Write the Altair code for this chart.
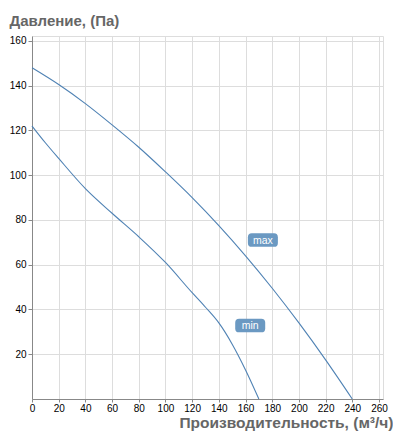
import altair as alt
import pandas as pd

# max curve
max_x = [0, 20, 40, 60, 80, 100, 120, 140, 160, 180, 200, 220, 240]
max_y = [148, 140.5, 132, 122.5, 112.5, 101.5, 90, 77.5, 64, 49.5, 34, 17.5, 0]
# min curve
min_x = [0, 10, 20, 40, 60, 80, 100, 120, 130, 140, 150, 160, 170]
min_y = [122, 114.5, 107.5, 94, 83, 72.5, 61, 47.5, 41, 34, 24.5, 13, 0]

# curve labels
label_text = ["max", "min"]
label_x = [173, 163.5]
label_y = [71, 32.8]

x_ticks = list(range(0, 261, 20))
y_ticks = list(range(20, 161, 20))

curves = pd.DataFrame(
    {"q": max_x + min_x,
     "p": max_y + min_y,
     "curve": ["max"] * len(max_x) + ["min"] * len(min_x)}
)
labels = pd.DataFrame({"q": label_x, "p": label_y, "t": label_text})

LINE = "#4f82b4"
BOX = "#6b99c2"

x_scale = alt.Scale(domain=[0, 263], nice=False, zero=False)
y_scale = alt.Scale(domain=[0, 162.2], nice=False, zero=False)

x_axis = alt.Axis(
    values=x_ticks, grid=True, tickSize=3, labelPadding=1, labelFlush=False,
    labelOverlap=False, labelSeparation=0,
    title="Производительность, (м³/ч)", titleAlign="right",
    titleAnchor="end", titleX=361, titleY=28.5, titleBaseline="alphabetic",
    titleFont="Liberation Sans", titleFontSize=15.5, titleFontWeight="bold",
    titleColor="#666666",
)
y_axis = alt.Axis(
    values=y_ticks, grid=True, tickSize=4, labelPadding=2, labelOverlap=False,
    title="Давление, (Па)", titleAngle=0, titleAlign="left", titleAnchor="start",
    titleX=-23, titleY=-11, titleBaseline="alphabetic",
    titleFont="Liberation Sans", titleFontSize=15, titleFontWeight="bold",
    titleColor="#666666",
)

X = alt.X("q:Q", scale=x_scale, axis=x_axis)
Y = alt.Y("p:Q", scale=y_scale, axis=y_axis)

lines = alt.Chart(curves).mark_line(
    color=LINE, strokeWidth=1.1, interpolate="monotone"
).encode(x=X, y=Y, detail="curve:N")

rr = ("M -0.74,-0.45 L 0.74,-0.45 Q 1,-0.45 1,-0.19 L 1,0.19 Q 1,0.45 0.74,0.45 "
      "L -0.74,0.45 Q -1,0.45 -1,0.19 L -1,-0.19 Q -1,-0.45 -0.74,-0.45 Z")

boxes = alt.Chart(labels).mark_point(
    shape=rr, filled=True, fill=BOX, opacity=1, strokeWidth=0, size=30 * 30
).encode(x=X, y=Y)

texts = alt.Chart(labels).mark_text(
    color="white", font="Liberation Sans", fontSize=10.5, align="center",
    baseline="middle", dy=0.5
).encode(x=X, y=Y, text="t:N")

chart = alt.layer(lines, boxes, texts).properties(
    width=351, height=363,
    padding={"left": 24, "top": 28, "right": 10, "bottom": 32},
    autosize=alt.AutoSizeParams(type="none"),
).configure_view(
    stroke="#c5d6e3", strokeWidth=1
).configure_axis(
    domainColor="#b5cadb", gridColor="#dde8f1", tickColor="#8ea9c2",
    labelFont="DejaVu Sans", labelFontSize=10, labelColor="#333333",
).configure(background="white")

chart.save("out.html", embed_options={"renderer": "svg", "actions": False})
